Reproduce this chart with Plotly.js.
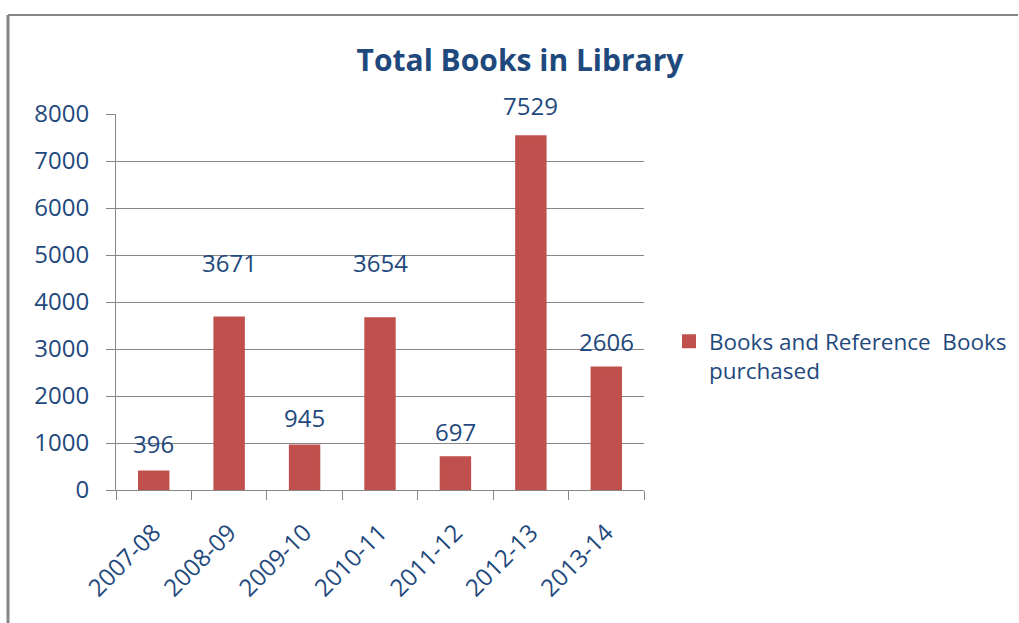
<!DOCTYPE html>
<html>
<head>
<meta charset="utf-8">
<script src="https://cdn.plot.ly/plotly-3.0.1.min.js"></script>
<style>
html,body{margin:0;padding:0;background:#fff;}
#chart{width:1019px;height:623px;}
</style>
</head>
<body>
<div id="chart"></div>
<script>
var years = ["2007-08", "2008-09", "2009-10", "2010-11", "2011-12", "2012-13", "2013-14"];
var booksPurchased = [396, 3671, 945, 3654, 697, 7529, 2606];
var seriesName = "Books and Reference  Books<br>purchased";
var chartTitle = "Total Books in Library";
var labelShift = [28, 55, 28, 56, 26, 31, 26];

var textColor = "#1F497D";
var gray = "#868686";
var fontFam = "Open Sans, Lato, sans-serif";

var L = 116, R = 375, T = 114, B = 133;
var pw = 1019 - L - R, ph = 623 - T - B;
function px(x){ return (x - L) / pw; }
function py(y){ return (623 - B - y) / ph; }

var annotations = years.map(function(c, i){
  return {
    x: c, y: booksPurchased[i], xref: "x", yref: "y",
    text: String(booksPurchased[i]), showarrow: false,
    yshift: labelShift[i], font: {family: fontFam, size: 24, color: textColor}
  };
});

var data = [{
  type: "bar",
  x: years,
  y: booksPurchased,
  name: seriesName,
  marker: {color: "#C0504D", line: {color: "#C0504D", width: 2}},
  width: 0.39,
  showlegend: true
}];

var layout = {
  width: 1019, height: 623,
  margin: {l: L, r: R, t: T, b: B, autoexpand: false},
  paper_bgcolor: "#fff", plot_bgcolor: "#fff",
  font: {family: fontFam, color: textColor},
  title: {text: "<b>" + chartTitle + "</b>", x: px(520), xanchor: "center", xref: "paper", y: 1 - 60/623, yanchor: "middle",
          font: {family: fontFam, size: 30, color: textColor}},
  xaxis: {
    type: "category",
    tickangle: -45,
    tickson: "boundaries",
    ticks: "outside", ticklen: 9, tickcolor: gray, tickwidth: 1,
    ticklabelstandoff: 18,
    showline: true, linecolor: gray, linewidth: 1,
    showgrid: false,
    tickfont: {family: fontFam, size: 24, color: textColor}
  },
  yaxis: {
    range: [0, 8000], dtick: 1000,
    ticks: "outside", ticklen: 9, tickcolor: gray, tickwidth: 1,
    ticklabelstandoff: 12,
    showline: true, linecolor: gray, linewidth: 1,
    showgrid: true, gridcolor: gray, gridwidth: 1,
    zeroline: false,
    tickfont: {family: fontFam, size: 24, color: textColor}
  },
  legend: {
    x: px(669), xanchor: "left", y: py(356), yanchor: "middle",
    valign: "top",
    font: {family: fontFam, size: 22.5, color: textColor},
    itemwidth: 30, bgcolor: "rgba(0,0,0,0)"
  },
  annotations: annotations,
  shapes: [
    {type: "line", xref: "paper", yref: "paper", x0: px(8), x1: px(8), y0: py(15), y1: py(623), line: {color: gray, width: 3}},
    {type: "line", xref: "paper", yref: "paper", x0: px(8), x1: px(1018), y0: py(15), y1: py(15), line: {color: gray, width: 2}}
  ],
  bargap: 0.59
};

Plotly.newPlot("chart", data, layout, {displayModeBar: false, staticPlot: true});
</script>
</body>
</html>
